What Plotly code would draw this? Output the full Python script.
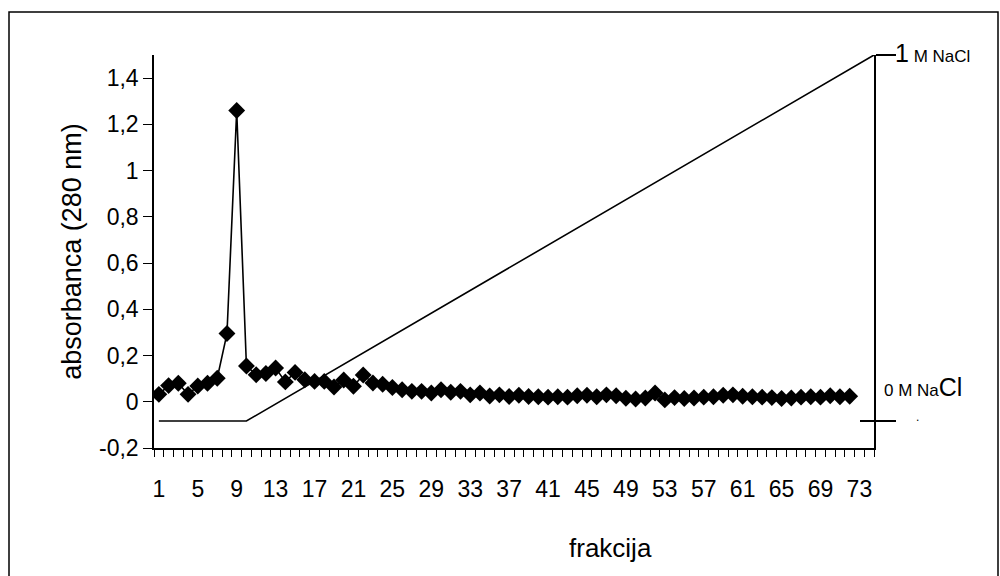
import plotly.graph_objects as go

# ---- data ----
fractions = list(range(1, 73))
absorbance = [
    0.032, 0.070, 0.080, 0.032, 0.068, 0.080, 0.102, 0.295, 1.260, 0.155,
    0.117, 0.122, 0.146, 0.086, 0.127, 0.095, 0.088, 0.088, 0.064, 0.094,
    0.067, 0.116, 0.081, 0.076, 0.062, 0.052, 0.045, 0.045, 0.038, 0.052,
    0.041, 0.045, 0.030, 0.038, 0.025, 0.030, 0.023, 0.028, 0.023, 0.022,
    0.020, 0.022, 0.020, 0.026, 0.028, 0.022, 0.030, 0.026, 0.015, 0.012,
    0.016, 0.038, 0.008, 0.018, 0.014, 0.016, 0.020, 0.022, 0.028, 0.030,
    0.024, 0.022, 0.020, 0.018, 0.014, 0.016, 0.020, 0.022, 0.020, 0.026,
    0.022, 0.024,
]
gradient_x = [1, 10, 74.5]
gradient_nacl = [0, 0, 1]

x_tickvals = list(range(1, 74, 4))
x_ticktext = [str(v) for v in x_tickvals]
y_tickvals = [-0.2, 0, 0.2, 0.4, 0.6, 0.8, 1.0, 1.2, 1.4]
y_ticktext = ["-0,2", "0", "0,2", "0,4", "0,6", "0,8", "1", "1,2", "1,4"]
nacl_tickvals = [0, 1]

FONT = "Liberation Sans, Arial, sans-serif"
NACL_RANGE = [-0.0738, 1.0]

fig = go.Figure()

fig.add_trace(go.Scatter(
    x=gradient_x, y=gradient_nacl, yaxis="y2", mode="lines",
    line=dict(color="black", width=1.6), showlegend=False, hoverinfo="skip",
    cliponaxis=False,
))
fig.add_trace(go.Scatter(
    x=[], y=[], yaxis="y3", mode="lines", showlegend=False, hoverinfo="skip",
))
fig.add_trace(go.Scatter(
    x=fractions, y=absorbance, mode="lines+markers",
    line=dict(color="black", width=1.6),
    marker=dict(symbol="diamond", size=13, color="black"),
    showlegend=False,
))

fig.update_layout(
    width=1000, height=576,
    margin=dict(l=154, r=126, t=55, b=128),
    paper_bgcolor="white", plot_bgcolor="white",
    font=dict(family=FONT, color="black", size=23),
    separators=", ",
    xaxis=dict(
        range=[0.5, 74.5], showgrid=False, zeroline=False,
        showline=True, linecolor="black", linewidth=1.5,
        tickmode="array", tickvals=x_tickvals, ticktext=x_ticktext,
        ticks="", ticklabelstandoff=20,
        tickfont=dict(size=23),
        minor=dict(ticks="outside", tick0=0.5, dtick=1, ticklen=7,
                   tickcolor="black", tickwidth=1.2, showgrid=False),
    ),
    yaxis=dict(
        range=[-0.2, 1.5], showgrid=False, zeroline=False,
        showline=True, linecolor="black", linewidth=1.5,
        tickmode="array", tickvals=y_tickvals, ticktext=y_ticktext,
        ticks="outside", ticklen=9, tickcolor="black", tickwidth=1.2,
        tickfont=dict(size=23),
        title=dict(text="absorbanca (280 nm)", font=dict(size=27), standoff=10),
    ),
    yaxis2=dict(
        range=NACL_RANGE, overlaying="y", side="right",
        showgrid=False, zeroline=False, showline=True, linecolor="black",
        linewidth=1.5, tickmode="array", tickvals=nacl_tickvals,
        showticklabels=False, ticks="outside", ticklen=20,
        tickcolor="black", tickwidth=1.5,
    ),
    yaxis3=dict(
        range=NACL_RANGE, overlaying="y", side="right",
        showgrid=False, zeroline=False, showline=False,
        tickmode="array", tickvals=nacl_tickvals,
        showticklabels=False, ticks="inside", ticklen=14,
        tickcolor="black", tickwidth=1.5,
    ),
)

fig.add_annotation(
    x=(610 - 154) / 720, xref="paper", y=-(548 - 448) / 393, yref="paper",
    xanchor="center", yanchor="middle", showarrow=False,
    text="frakcija", font=dict(size=26),
)
fig.add_annotation(
    x=1, xref="paper", y=1, yref="y2", xanchor="left", yanchor="middle",
    xshift=19, yshift=2, showarrow=False,
    text="<span style='font-size:25px'>1</span><span style='font-size:17px'> M NaCl</span>",
)
fig.add_annotation(
    x=1, xref="paper", y=0, yref="y2", xanchor="left", yanchor="middle",
    xshift=8, yshift=34, showarrow=False,
    text="<span style='font-size:17px'>0 M Na</span><span style='font-size:25px'>Cl</span>",
)
fig.add_annotation(
    x=1, xref="paper", y=0, yref="y2", xanchor="left", yanchor="middle",
    xshift=40, yshift=4, showarrow=False, text="<span style='font-size:12px'>.</span>",
)

fig.add_shape(
    type="rect", xref="paper", yref="paper",
    x0=(9 - 154) / 720, x1=(998 - 154) / 720,
    y0=-(600 - 448) / 393, y1=1 + (55 - 12) / 393,
    line=dict(color="black", width=1.5), fillcolor="rgba(0,0,0,0)", layer="below",
)

fig.write_html("out.html")
